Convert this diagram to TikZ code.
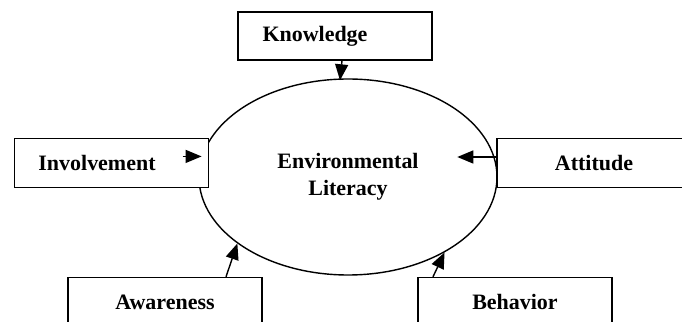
\documentclass[tikz,border=0pt]{standalone}
\usepackage{fontspec}
\setmainfont{Liberation Serif}
\usetikzlibrary{shapes.geometric, arrows.meta, positioning, calc}

\begin{document}
\begin{tikzpicture}[
        x=1cm, y=1cm,
        factor/.style={rectangle, draw=black, thick, fill=white, minimum width=3.88cm, minimum height=0.98cm, font=\bfseries\fontsize{12.5}{15}\selectfont},
        core/.style={ellipse, draw=black, thick, minimum width=5.96cm, minimum height=3.92cm, inner sep=0pt, align=center, font=\bfseries\fontsize{12.5}{15.5}\selectfont},
        arrow/.style={thick, -{Triangle[length=0.32cm, width=0.26cm]}, black}
    ]
        % Frame
        \clip (0,0) rectangle (13.64,-6.44);

        % Central ellipse
        \node (lit) [core] at (6.96,-3.54) {Environmental\\Literacy};

        % Surrounding factors
        \node (kno) [factor, minimum height=0.96cm] at (6.70,-0.72) {\hspace*{-0.8cm}Knowledge};
        \node (inv) [factor] at (2.23,-3.26) {\hspace*{-0.58cm}Involvement};
        \node (att) [factor] at (11.88,-3.26) {Attitude};
        \node (awa) [factor] at (3.30,-6.04) {Awareness};
        \node (beh) [factor] at (10.30,-6.04) {Behavior};

        % Arrows
        \draw [arrow] ([xshift=0.14cm]kno.south) -- ([xshift=-0.16cm, yshift=-0.04cm]lit.north);
        \draw [arrow] ([xshift=-0.38cm]lit.172) -- (lit.172);
        \draw [arrow] ([yshift=0.12cm]att.west) -- ++(-0.78,0);
        \draw [arrow] ([xshift=1.22cm]awa.north) -- (lit.211);
        \draw [arrow] ([xshift=-1.64cm]beh.north) -- (lit.322);
    \end{tikzpicture}
\end{document}
